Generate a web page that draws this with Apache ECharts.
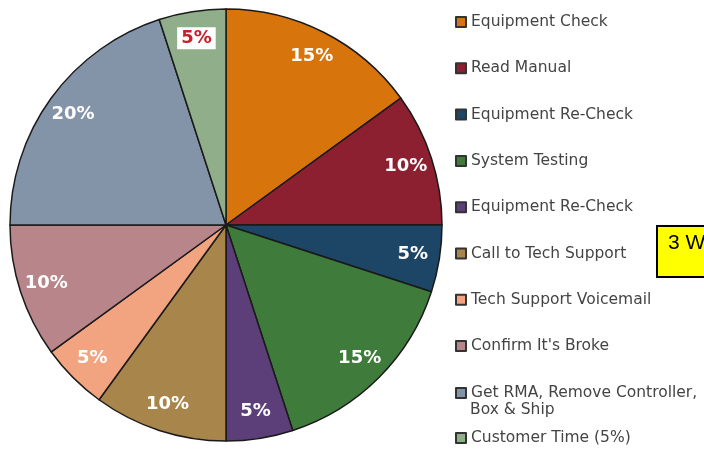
<!DOCTYPE html>
<html>
<head>
<meta charset="utf-8">
<script src="https://cdn.jsdelivr.net/npm/echarts@6/dist/echarts.min.js"></script>
<style>
html,body{margin:0;padding:0;background:#fff;}
#c{width:704px;height:449px;}
</style>
</head>
<body>
<div id="c"></div>
<script>
var categories = ["Equipment Check","Read Manual","Equipment Re-Check","System Testing","Equipment Re-Check ","Call to Tech Support","Tech Support Voicemail","Confirm It's Broke","Get RMA, Remove Controller, Box & Ship","Customer Time (5%)"];
var values = [15,10,5,15,5,10,5,10,20,5];
var colors = ["#D8740C","#8C1F30","#1C4566","#3F7B3A","#5C3F78","#A8854A","#F2A37F","#B8868A","#8494A8","#90AE89"];

var chart = echarts.init(document.getElementById('c'));
var data = categories.map(function(n,i){ return {name:n, value:values[i], itemStyle:{color:colors[i]}}; });
var labelData = categories.map(function(n,i){
  var d = {name:n, value:values[i]};
  if (i === 9) {
    d.label = {color:'#C8202C', backgroundColor:'#fff', padding:[3,4,1,4]};
  }
  return d;
});
function legendItems(list){
  return list.map(function(n){ var i = categories.indexOf(n); return {name:n, itemStyle:{color:colors[i], borderColor:'#333', borderWidth:2}}; });
}
var legendText = {fontFamily:'DejaVu Sans', fontSize:15.5, color:'#444'};
var legendCommon = {
  orient:'vertical', left:450, icon:'rect', itemWidth:10, itemHeight:10,
  textStyle:legendText, selectedMode:false
};
chart.setOption({
  animation:false,
  legend:[
    Object.assign({}, legendCommon, {top:9, itemGap:30.3, data:legendItems(categories.slice(0,8))}),
    Object.assign({}, legendCommon, {top:380, data:legendItems([categories[8]]),
      formatter:function(){ return 'Get RMA, Remove Controller,'; }}),
    Object.assign({}, legendCommon, {top:425, data:legendItems([categories[9]])})
  ],
  graphic:[
    {type:'text', left:470, top:402, silent:true, style:{text:'Box & Ship', font:'15.5px "DejaVu Sans"', fill:'#444'}},
    {type:'rect', shape:{x:657, y:226, width:80, height:51}, style:{fill:'#FFFF00', stroke:'#000', lineWidth:2}},
    {type:'text', x:668, y:233, style:{text:'3 W', font:'21px "Liberation Sans"', fill:'#000'}}
  ],
  series:[
    {
      type:'pie', center:[226,225], radius:[0,216], startAngle:90, clockwise:true,
      data:data, label:{show:false}, labelLine:{show:false}, silent:true,
      itemStyle:{borderColor:'#1a1a1a', borderWidth:1.5}
    },
    {
      type:'pie', center:[226,225], radius:[156,216], startAngle:90, clockwise:true,
      data:labelData, silent:true, legendHoverLink:false,
      itemStyle:{color:'rgba(0,0,0,0)', borderWidth:0},
      labelLine:{show:false},
      label:{show:true, position:'inside', formatter:'{c}%', color:'#fff', fontFamily:'DejaVu Sans', fontWeight:'bold', fontSize:18}
    }
  ]
});
</script>
</body>
</html>
